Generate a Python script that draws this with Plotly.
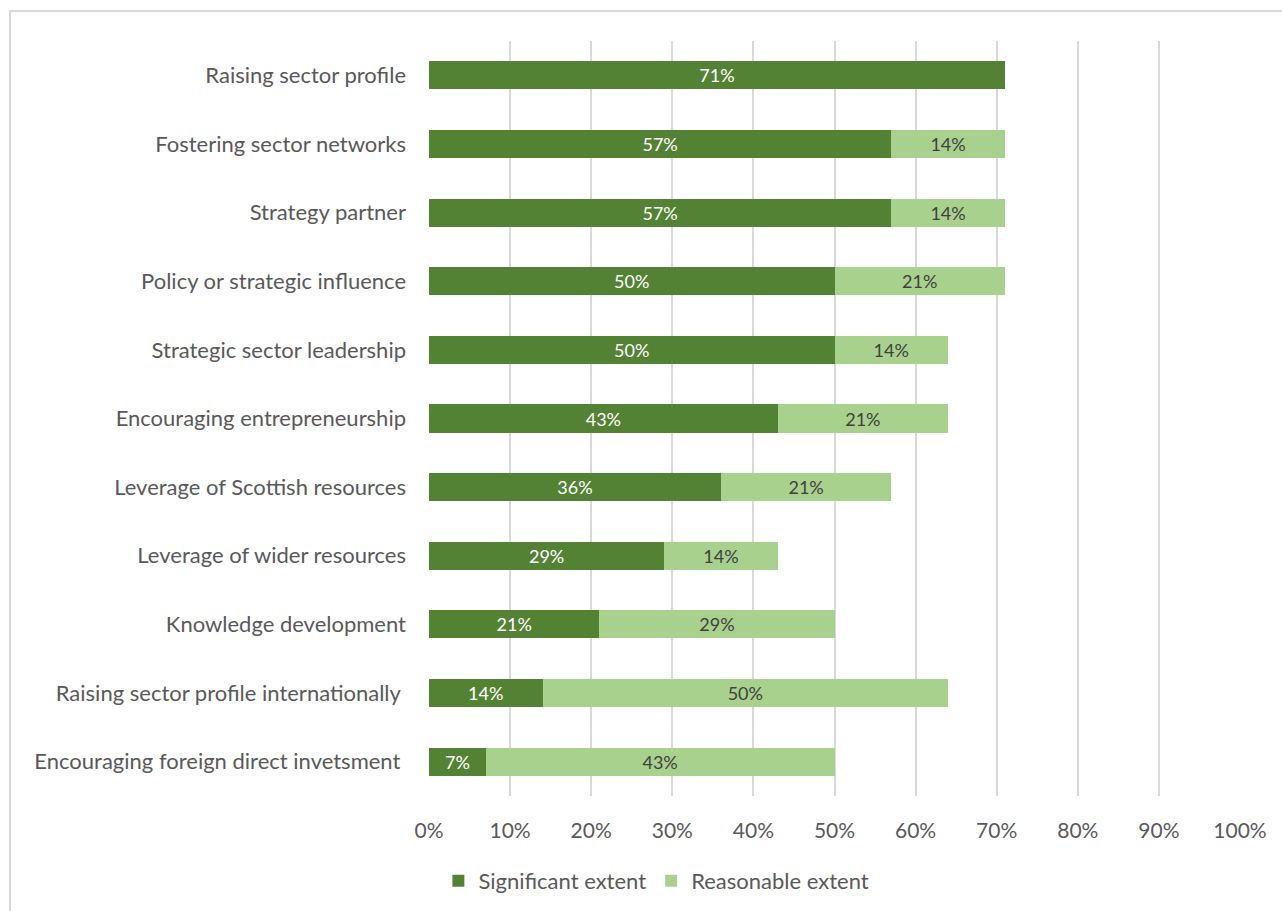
import plotly.graph_objects as go

# Survey items, listed top to bottom
categories = [
    "Raising sector profile",
    "Fostering sector networks",
    "Strategy partner",
    "Policy or strategic influence",
    "Strategic sector leadership",
    "Encouraging entrepreneurship",
    "Leverage of Scottish resources",
    "Leverage of wider resources",
    "Knowledge development",
    "Raising sector profile internationally\u00a0",
    "Encouraging foreign direct invetsment\u00a0",
]
significant = [71, 57, 57, 50, 50, 43, 36, 29, 21, 14, 7]
reasonable = [0, 14, 14, 21, 14, 21, 21, 14, 29, 50, 43]
x_ticks = list(range(0, 101, 10))

FONT = "Lato, 'Open Sans', sans-serif"
DARK = "#548235"
LIGHT = "#A9D18E"
TEXT = "#595959"


def labels(vals):
    return [f"{v}%" if v > 0 else "" for v in vals]


fig = go.Figure()
fig.add_trace(go.Bar(
    y=categories, x=significant, orientation="h", name="Significant extent",
    marker=dict(color=DARK, line=dict(width=0)),
    text=labels(significant), textposition="inside", insidetextanchor="middle",
    textangle=0, constraintext="none",
    textfont=dict(family=FONT, size=18, color="white"),
    hoverinfo="skip",
))
fig.add_trace(go.Bar(
    y=categories, x=reasonable, orientation="h", name="Reasonable extent",
    marker=dict(color=LIGHT, line=dict(width=0)),
    text=labels(reasonable), textposition="inside", insidetextanchor="middle",
    textangle=0, constraintext="none",
    textfont=dict(family=FONT, size=18, color="#404040"),
    hoverinfo="skip",
))

L, R, T, B = 429, 42, 41, 115
W, H = 1282, 911
pw, ph = W - L - R, H - T - B


def px_x(p):
    return (p - L) / pw


def px_y(p):
    return (H - B - p) / ph


fig.update_layout(
    width=W, height=H,
    barmode="stack", bargap=0.59,
    plot_bgcolor="white", paper_bgcolor="white",
    margin=dict(l=L, r=R, t=T, b=B, pad=0),
    font=dict(family=FONT, size=21, color=TEXT),
    xaxis=dict(
        range=[0, 100], tickvals=x_ticks, ticktext=[f"{v}%" for v in x_ticks],
        showgrid=True, gridcolor="#d9d9d9", gridwidth=2,
        zeroline=False, showline=False, ticks="",
        ticklabelstandoff=20,
        tickfont=dict(family=FONT, size=21, color=TEXT),
        fixedrange=True,
    ),
    yaxis=dict(
        categoryorder="array", categoryarray=categories[::-1],
        autorange=False, range=[-0.5, len(categories) - 0.5],
        showgrid=False, zeroline=False, showline=False, ticks="",
        ticklabelstandoff=22,
        tickfont=dict(family=FONT, size=22, color=TEXT),
        fixedrange=True,
    ),
    legend=dict(
        orientation="h", xref="container", yref="container",
        x=0.512, xanchor="center", y=0.033, yanchor="middle",
        font=dict(family=FONT, size=22, color=TEXT),
        itemwidth=30, traceorder="normal",
    ),
    showlegend=True,
    shapes=[dict(
        type="rect", xref="paper", yref="paper",
        x0=px_x(10), x1=px_x(1300), y0=px_y(930), y1=px_y(11),
        line=dict(color="#d9d9d9", width=2), fillcolor="rgba(0,0,0,0)",
        layer="below",
    )],
)

fig.write_html("out.html")
